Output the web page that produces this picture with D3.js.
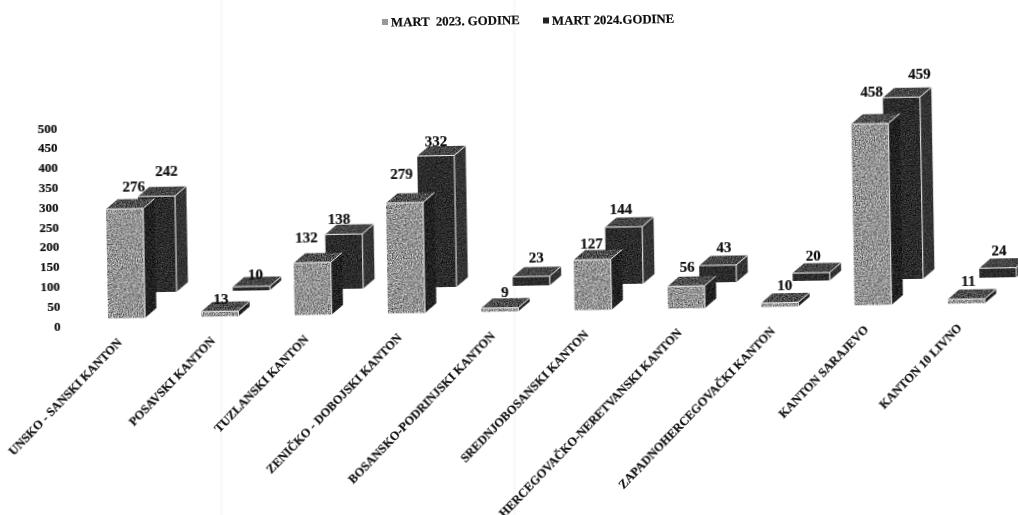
<!DOCTYPE html>
<html>
<head>
<meta charset="utf-8">
<script src="https://cdn.jsdelivr.net/npm/d3@7"></script>
<style>
body { margin: 0; background: #fff; overflow: hidden; }
text { font-family: "Liberation Serif", serif; font-weight: bold; fill: #111; stroke: #111; stroke-width: 0.2px; }
</style>
</head>
<body>
<div id="chart-area"></div>
<script>
var categories = ["UNSKO - SANSKI KANTON", "POSAVSKI KANTON", "TUZLANSKI KANTON", "ZENIČKO - DOBOJSKI KANTON",
	"BOSANSKO-PODRINJSKI KANTON", "SREDNJOBOSANSKI KANTON", "HERCEGOVAČKO-NERETVANSKI KANTON",
	"ZAPADNOHERCEGOVAČKI KANTON", "KANTON SARAJEVO", "KANTON 10 LIVNO"];
var mart2023 = [276, 13, 132, 279, 9, 127, 56, 10, 458, 11];
var mart2024 = [242, 10, 138, 332, 23, 144, 43, 20, 459, 24];
var yTicks = [0, 50, 100, 150, 200, 250, 300, 350, 400, 450, 500];
var seriesNames = ["MART  2023. GODINE", "MART 2024.GODINE"];

// value labels were dragged by hand in the original, so each has its own nudge
var nudge2023 = [[2, 0], [-6, 1], [-13, -3], [-10, -7], [-2, -3], [-8, 6], [-6, -2], [-2, -5], [-5, -10], [-5, -5]];
var nudge2024 = [[3, -3], [-3, 1], [-12, 6], [-7, 7], [-2, -5], [-10, 4], [-1, -2], [-5, -3], [11, -1], [-6, -3]];

var width = 1018;
var height = 515;

var svg = d3.select("#chart-area")
	.append("svg")
	.attr("width", width)
	.attr("height", height);

var defs = svg.append("defs");

// grain of the scanned print, mean is the average grey of the face
function grain(id, mean, contrast) {
	var f = defs.append("filter").attr("id", id)
		.attr("x", 0).attr("y", 0).attr("width", 1).attr("height", 1)
		.attr("color-interpolation-filters", "sRGB");
	var b = mean - 0.5 * contrast;
	f.append("feTurbulence").attr("type", "fractalNoise").attr("baseFrequency", 0.8)
		.attr("numOctaves", 2).attr("seed", 4).attr("result", "n");
	f.append("feColorMatrix").attr("in", "n").attr("type", "matrix")
		.attr("values", [0, 0, 0, contrast, b, 0, 0, 0, contrast, b, 0, 0, 0, contrast, b, 0, 0, 0, 0, 1].join(" "))
		.attr("result", "g");
	f.append("feComposite").attr("in", "g").attr("in2", "SourceAlpha").attr("operator", "in");
}
grain("frontLight", 0.58, 1.1);
grain("topLight", 0.30, 0.9);
grain("sideLight", 0.13, 0.5);
grain("frontDark", 0.17, 0.5);
grain("topDark", 0.27, 0.6);
grain("sideDark", 0.20, 0.4);
defs.append("filter").attr("id", "scan").append("feGaussianBlur").attr("stdDeviation", 0.35);

// faint fold marks of the paper
svg.selectAll(".fold")
	.data([220, 513])
	.enter()
	.append("rect")
	.attr("class", "fold")
	.attr("x", (d) => d).attr("y", 0)
	.attr("width", 3).attr("height", height)
	.attr("fill", "#fafafa");

// the whole page sits about 1 degree crooked in the scanner
var g = svg.append("g")
	.attr("filter", "url(#scan)")
	.attr("transform", "rotate(-1 508 257)");

var x = d3.scaleBand()
	.domain(categories)
	.range([107, 984])
	.paddingInner(0.603)
	.paddingOuter(0);

var y = d3.scaleLinear()
	.domain([0, 500])
	.range([319, 121]);

var depthX = 11.5;
var depthY = 9.5;

var labelGap = d3.scaleLinear().domain([0, 100]).range([12, 22]).clamp(true);

var series = [
	{ name: seriesNames[1], values: mart2024, nudge: nudge2024, dx: 32, dy: -33, front: "url(#frontDark)", top: "url(#topDark)", side: "url(#sideDark)" },
	{ name: seriesNames[0], values: mart2023, nudge: nudge2023, dx: 0, dy: -7.6, front: "url(#frontLight)", top: "url(#topLight)", side: "url(#sideLight)" }
];

var line = d3.line();

function drawBar(group, s, cat, value) {
	var x0 = x(cat) + s.dx;
	var x1 = x0 + x.bandwidth();
	var yb = y(0) + s.dy;
	var yt = y(value) + s.dy;

	group.append("path")
		.attr("d", line([[x1, yb], [x1 + depthX, yb - depthY], [x1 + depthX, yt - depthY], [x1, yt]]) + "Z")
		.attr("filter", s.side);
	group.append("path")
		.attr("d", line([[x0, yt], [x1, yt], [x1 + depthX, yt - depthY], [x0 + depthX, yt - depthY]]) + "Z")
		.attr("filter", s.top);
	group.append("rect")
		.attr("x", x0).attr("y", yt)
		.attr("width", x1 - x0).attr("height", yb - yt)
		.attr("filter", s.front);
	// white rims between the faces
	group.append("path")
		.attr("d", line([[x0, yt], [x1, yt], [x1, yb]]) + "M" + x1 + "," + yt + "L" + (x1 + depthX) + "," + (yt - depthY))
		.attr("fill", "none").attr("stroke", "#f2f2f2").attr("stroke-width", 1);
}

// bars, back series first within each canton
categories.forEach((cat, i) => {
	var group = g.append("g").attr("class", "canton");
	series.forEach((s) => {
		drawBar(group, s, cat, s.values[i]);
	});
});

// value labels
series.forEach((s) => {
	g.selectAll(null)
		.data(categories)
		.enter()
		.append("text")
		.attr("x", (d, i) => x(d) + s.dx + 26 + s.nudge[i][0])
		.attr("y", (d, i) => y(s.values[i]) + s.dy - labelGap(s.values[i]) + s.nudge[i][1])
		.attr("dy", "0.35em")
		.attr("text-anchor", "middle")
		.attr("font-size", "15px")
		.text((d, i) => s.values[i]);
});

// left y axis
var yAxisCall = d3.axisLeft(y)
	.tickValues(yTicks)
	.tickSize(0)
	.tickPadding(0);
var yAxis = g.append("g")
	.attr("class", "left axis")
	.attr("transform", "translate(59.5, -1)")
	.call(yAxisCall);
yAxis.select(".domain").remove();
yAxis.selectAll("text")
	.attr("font-size", "13px")
	.style("font-family", '"Liberation Serif", serif');

// bottom axis ticks
var bottomAxis = d3.axisBottom(x).tickSize(0).tickPadding(0);
var xAxis = g.append("g")
	.attr("class", "bottom axis")
	.attr("transform", "translate(0, 333.5)")
	.call(bottomAxis);
xAxis.select(".domain").remove();
xAxis.selectAll("text")
	.attr("y", 0)
	.attr("dy", "0.35em")
	.attr("x", 0)
	.attr("text-anchor", "end")
	.attr("transform", "translate(-7.5, 0) rotate(-45)")
	.attr("font-size", "12.3px")
	.style("font-family", '"Liberation Serif", serif');

// legend
var legend = svg.append("g").attr("class", "legend").attr("filter", "url(#scan)");
var legendItems = [
	{ label: seriesNames[0], x: 391, y: 22, swatch: "#999" },
	{ label: seriesNames[1], x: 552, y: 20.5, swatch: "#222" }
];
legendItems.forEach((d) => {
	legend.append("rect")
		.attr("x", d.x - 9).attr("y", d.y - 3)
		.attr("width", 6).attr("height", 6)
		.attr("fill", d.swatch);
	legend.append("text")
		.attr("x", d.x).attr("y", d.y)
		.attr("dy", "0.35em")
		.attr("font-size", "12.8px")
		.style("white-space", "pre")
		.attr("transform", "rotate(-1 " + d.x + " " + d.y + ")")
		.text(d.label);
});
</script>
</body>
</html>
